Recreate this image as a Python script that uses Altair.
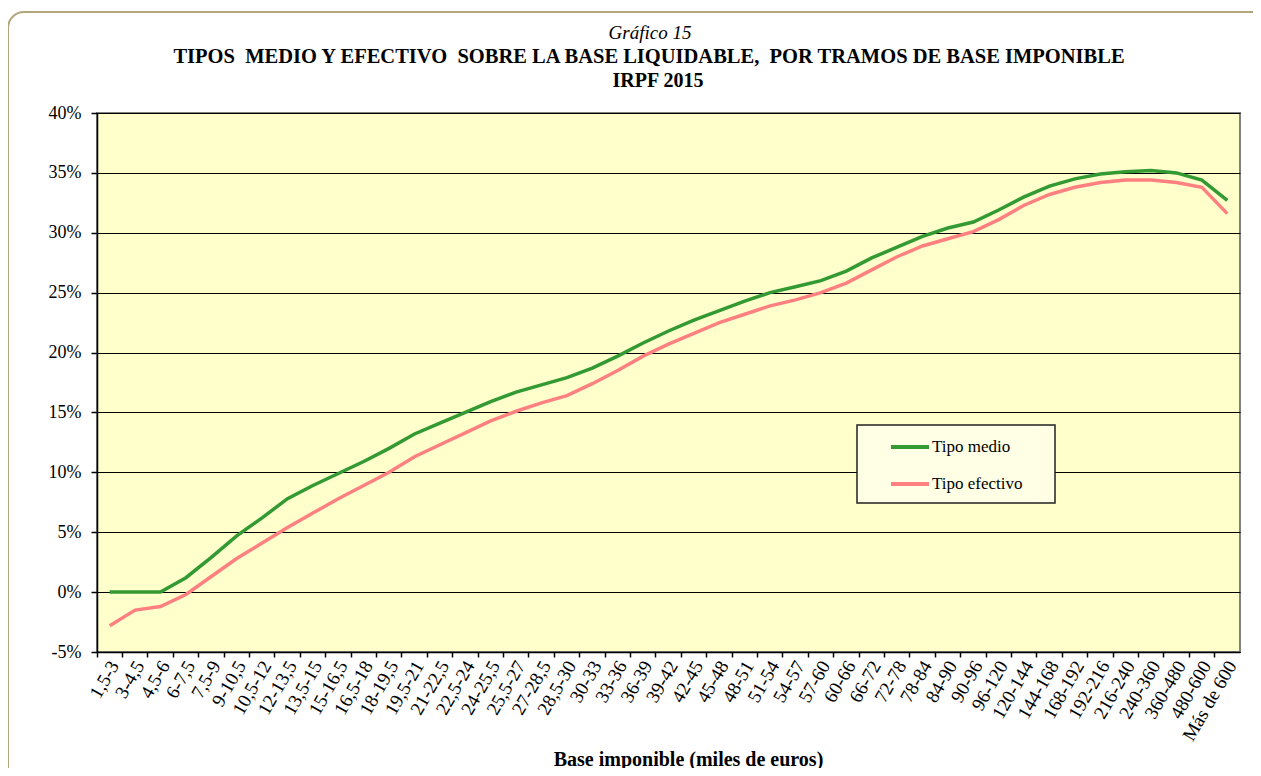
import altair as alt
import pandas as pd

categories = ["1,5-3", "3-4,5", "4,5-6", "6-7,5", "7,5-9", "9-10,5", "10,5-12", "12-13,5",
              "13,5-15", "15-16,5", "16,5-18", "18-19,5", "19,5-21", "21-22,5", "22,5-24",
              "24-25,5", "25,5-27", "27-28,5", "28,5-30", "30-33", "33-36", "36-39", "39-42",
              "42-45", "45-48", "48-51", "51-54", "54-57", "57-60", "60-66", "66-72", "72-78",
              "78-84", "84-90", "90-96", "96-120", "120-144", "144-168", "168-192", "192-216",
              "216-240", "240-360", "360-480", "480-600", "Más de 600"]

tipo_medio = [0.0, 0.0, 0.0, 1.2, 2.9, 4.7, 6.2, 7.8, 8.9, 9.9, 10.9, 12.0, 13.2, 14.1, 15.0,
              15.9, 16.7, 17.3, 17.9, 18.7, 19.7, 20.8, 21.8, 22.7, 23.5, 24.3, 25.0, 25.5, 26.0,
              26.8, 27.9, 28.8, 29.7, 30.4, 30.9, 31.9, 33.0, 33.9, 34.5, 34.9, 35.1, 35.2, 35.0,
              34.4, 32.7]

tipo_efectivo = [-2.8, -1.5, -1.2, -0.2, 1.3, 2.8, 4.1, 5.4, 6.6, 7.8, 8.9, 10.0, 11.3, 12.3,
                 13.3, 14.3, 15.1, 15.8, 16.4, 17.4, 18.5, 19.7, 20.7, 21.6, 22.5, 23.2, 23.9,
                 24.4, 25.0, 25.8, 26.9, 28.0, 28.9, 29.5, 30.1, 31.1, 32.3, 33.2, 33.8, 34.2,
                 34.4, 34.4, 34.2, 33.8, 31.6]

series_names = ["Tipo medio", "Tipo efectivo"]
series_colors = ["#339933", "#FF8080"]
y_ticks = [-0.05, 0.0, 0.05, 0.10, 0.15, 0.20, 0.25, 0.30, 0.35, 0.40]

title_lines = ["Gráfico 15",
               "TIPOS\u00a0 MEDIO Y EFECTIVO\u00a0 SOBRE LA BASE LIQUIDABLE,\u00a0 POR TRAMOS DE BASE IMPONIBLE",
               "IRPF 2015"]

rows = []
for name, vals in zip(series_names, [tipo_medio, tipo_efectivo]):
    for c, v in zip(categories, vals):
        rows.append({"tramo": c, "serie": name, "valor": v / 100.0})
df = pd.DataFrame(rows)

FONT = "Liberation Serif"
W, H = 1143, 539
step = W / len(categories)

x_enc = alt.X("tramo:N", sort=categories,
              scale=alt.Scale(type="band", paddingInner=0, paddingOuter=0),
              bandPosition=0.5,
              axis=alt.Axis(title="Base imponible (miles de euros)",
                            bandPosition=0, labelOffset=step / 2 - 8,
                            labelAngle=-60, labelAlign="right", labelBaseline="middle",
                            labelFont=FONT, labelFontSize=19, labelColor="#000000",
                            labelPadding=5, labelOverlap=False,
                            ticks=True, tickSize=5, tickColor="#000000", tickWidth=1.5,
                            domainColor="#000000", domainWidth=1.5,
                            titleFont=FONT, titleFontSize=20, titleFontWeight="bold",
                            titleColor="#000000", titleX=591, titleY=113,
                            titleBaseline="alphabetic", titleAnchor="middle",
                            grid=False))

y_enc = alt.Y("valor:Q", scale=alt.Scale(domain=[-0.05, 0.40], nice=False, zero=False),
              axis=alt.Axis(values=y_ticks, format=".0%", title=None,
                            labelExpr="replace(datum.label, '\u2212', '-')",
                            labelFont=FONT, labelFontSize=18, labelColor="#000000",
                            labelPadding=10, tickSize=6, tickColor="#000000", tickWidth=1.5,
                            domainColor="#000000", domainWidth=1.5,
                            grid=True, gridColor="#000000", gridWidth=1.2))

lines = alt.Chart(df).mark_line(strokeWidth=3.5).encode(
    x=x_enc,
    y=y_enc,
    color=alt.Color("serie:N", sort=series_names,
                    scale=alt.Scale(domain=series_names, range=series_colors),
                    legend=alt.Legend(title=None, orient="none", legendX=792, legendY=313,
                                      symbolType="stroke", symbolSize=1444,
                                      symbolStrokeWidth=4, labelFont=FONT, labelFontSize=17,
                                      labelColor="#000000", labelOffset=1, rowPadding=8,
                                      padding=0)),
)

box_df = pd.DataFrame({"k": [0]})
legend_box = alt.Chart(box_df).mark_rect(fill="#FFFFE6", stroke="#222222", strokeWidth=1.5).encode(
    x=alt.value(760), x2=alt.value(958), y=alt.value(312), y2=alt.value(390)
)
frame = alt.Chart(box_df).mark_rect(fillOpacity=0, stroke="#B2A67C", strokeWidth=2,
                                    cornerRadius=16).encode(
    x=alt.value(-89), x2=alt.value(1300), y=alt.value(-101), y2=alt.value(800)
)

t1 = alt.Chart(box_df).mark_text(font=FONT, fontSize=19, fontStyle="italic",
                                 color="#000000", align="center", baseline="middle").encode(
    x=alt.value(553), y=alt.value(-80), text=alt.value(title_lines[0]))
t2 = alt.Chart(box_df).mark_text(font=FONT, fontSize=20.5, fontWeight="bold",
                                 color="#000000", align="center", baseline="middle").encode(
    x=alt.value(552), y=alt.value(-56), text=alt.value(title_lines[1]))
t3 = alt.Chart(box_df).mark_text(font=FONT, fontSize=20, fontWeight="bold",
                                 color="#000000", align="center", baseline="middle").encode(
    x=alt.value(561), y=alt.value(-32), text=alt.value(title_lines[2]))

chart = alt.layer(frame, lines, legend_box, t1, t2, t3).properties(
    width=W, height=H,
    background="#FFFFFF",
    autosize=alt.AutoSizeParams(type="none"),
    padding={"left": 89, "top": 105, "right": 13, "bottom": 116},
).configure_view(
    fill="#FFFFCC", stroke="#808080", strokeWidth=2
)

chart.save("out.html", embed_options={"renderer": "svg", "actions": False})
